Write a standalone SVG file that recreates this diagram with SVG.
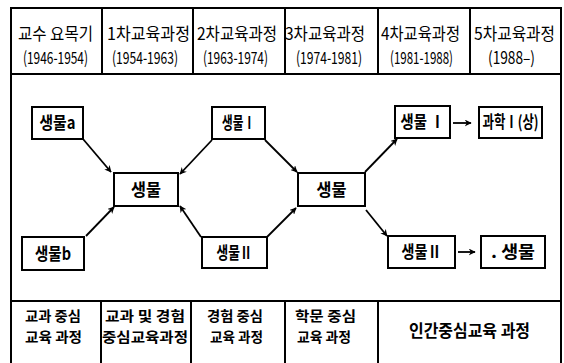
<svg xmlns="http://www.w3.org/2000/svg" width="564" height="363" viewBox="0 0 564 363">
<style>
.ln{stroke:#000;stroke-width:2;fill:none}
.bx{stroke:#000;stroke-width:2;fill:#fff}
.t{font-family:"Noto Sans CJK KR","Noto Sans",sans-serif;font-size:17px;font-weight:bold;fill:#000}
.f{font-family:"Noto Sans CJK KR","Noto Sans",sans-serif;font-size:14px;font-weight:bold;fill:#000}
.h{font-family:"Noto Sans CJK KR","Noto Sans",sans-serif;font-size:17px;fill:#000}
.c{stroke:#000;stroke-width:1.8;fill:none;marker-end:url(#ah)}
</style>
<defs>
<marker id="ah" viewBox="0 0 10 10" refX="9" refY="5" markerWidth="7" markerHeight="7" orient="auto" markerUnits="userSpaceOnUse">
<path d="M0,0 L10,5 L0,10 L3,5 Z" fill="#000"/>
</marker>
</defs>
<rect width="564" height="363" fill="#fff"/>
<g id="frame">
<path class="ln" d="M11,366 V8 H561 V366"/>
<line class="ln" x1="11" y1="74" x2="561" y2="74"/>
<line class="ln" x1="11" y1="301" x2="561" y2="301"/>
<line class="ln" x1="102" y1="8" x2="102" y2="74"/>
<line class="ln" x1="193" y1="8" x2="193" y2="74"/>
<line class="ln" x1="285" y1="8" x2="285" y2="74"/>
<line class="ln" x1="378" y1="8" x2="378" y2="74"/>
<line class="ln" x1="470" y1="8" x2="470" y2="74"/>
<line class="ln" x1="101" y1="301" x2="101" y2="366"/>
<line class="ln" x1="191" y1="301" x2="191" y2="366"/>
<line class="ln" x1="285" y1="301" x2="285" y2="366"/>
<line class="ln" x1="378" y1="301" x2="378" y2="366"/>
</g>
<g id="header">
<text class="h" x="18" y="40" textLength="75" lengthAdjust="spacingAndGlyphs">교수 요목기</text>
<text class="h" x="23" y="64" textLength="65" lengthAdjust="spacingAndGlyphs">(1946-1954)</text>
<text class="h" x="107" y="40" textLength="83" lengthAdjust="spacingAndGlyphs">1차교육과정</text>
<text class="h" x="112" y="64" textLength="66" lengthAdjust="spacingAndGlyphs">(1954-1963)</text>
<text class="h" x="197" y="40" textLength="80" lengthAdjust="spacingAndGlyphs">2차교육과정</text>
<text class="h" x="203" y="64" textLength="65" lengthAdjust="spacingAndGlyphs">(1963-1974)</text>
<text class="h" x="285" y="40" textLength="80" lengthAdjust="spacingAndGlyphs">3차교육과정</text>
<text class="h" x="296" y="64" textLength="66" lengthAdjust="spacingAndGlyphs">(1974-1981)</text>
<text class="h" x="381" y="40" textLength="79" lengthAdjust="spacingAndGlyphs">4차교육과정</text>
<text class="h" x="390" y="64" textLength="63" lengthAdjust="spacingAndGlyphs">(1981-1988)</text>
<text class="h" x="474" y="40" textLength="81" lengthAdjust="spacingAndGlyphs">5차교육과정</text>
<text class="h" x="488" y="64" textLength="47" lengthAdjust="spacingAndGlyphs">(1988–)</text>
</g>
<g id="connectors">
<line class="c" x1="83" y1="139" x2="111" y2="172"/>
<line class="c" x1="86" y1="236" x2="114" y2="207"/>
<line class="c" x1="212" y1="140" x2="180" y2="174"/>
<line class="c" x1="201" y1="237" x2="180" y2="206"/>
<line class="c" x1="265" y1="140" x2="297" y2="172"/>
<line class="c" x1="267" y1="237" x2="296" y2="208"/>
<line class="c" x1="365" y1="172" x2="397" y2="139"/>
<line class="c" x1="366" y1="210" x2="387" y2="236"/>
<line class="c" x1="453" y1="123" x2="471" y2="123"/>
<line class="c" x1="458" y1="252" x2="475" y2="252"/>
</g>
<g id="n-a"><rect class="bx" x="32" y="107" width="51" height="32"/><text class="t" x="57.5" y="129" text-anchor="middle" textLength="36" lengthAdjust="spacingAndGlyphs">생물a</text></g>
<g id="n-b"><rect class="bx" x="22" y="237" width="62" height="33"/><text class="t" x="53" y="260" text-anchor="middle" textLength="36" lengthAdjust="spacingAndGlyphs">생물b</text></g>
<g id="n-c1"><rect class="bx" x="114" y="173" width="64" height="33"/><text class="t" x="146" y="196" text-anchor="middle" textLength="30" lengthAdjust="spacingAndGlyphs">생물</text></g>
<g id="n-1"><rect class="bx" x="212" y="107" width="53" height="32"/><text class="t" x="238.5" y="129" text-anchor="middle" textLength="33" lengthAdjust="spacingAndGlyphs">생물Ⅰ</text></g>
<g id="n-2"><rect class="bx" x="202" y="237" width="65" height="31"/><text class="t" x="234.5" y="259" text-anchor="middle" textLength="36" lengthAdjust="spacingAndGlyphs">생물Ⅱ</text></g>
<g id="n-c2"><rect class="bx" x="298" y="173" width="67" height="33"/><text class="t" x="331.5" y="196" text-anchor="middle" textLength="30" lengthAdjust="spacingAndGlyphs">생물</text></g>
<g id="n-r1"><rect class="bx" x="395" y="106" width="55" height="32"/><text class="t" x="422.5" y="128" text-anchor="middle" textLength="44" lengthAdjust="spacingAndGlyphs">생물 Ⅰ</text></g>
<g id="n-sci"><rect class="bx" x="479" y="107" width="63" height="31"/><text class="t" x="510.5" y="128" text-anchor="middle" textLength="56" lengthAdjust="spacingAndGlyphs">과학Ⅰ(상)</text></g>
<g id="n-r2"><rect class="bx" x="388" y="236" width="67" height="32"/><text class="t" x="421.5" y="258" text-anchor="middle" textLength="40" lengthAdjust="spacingAndGlyphs">생물Ⅱ</text></g>
<g id="n-bio"><rect class="bx" x="481" y="236" width="64" height="32"/><text class="t" x="513" y="258" text-anchor="middle" textLength="44" lengthAdjust="spacingAndGlyphs">. 생물</text></g>
<g id="footer">
<text class="f" x="25" y="321" textLength="56" lengthAdjust="spacingAndGlyphs">교과 중심</text>
<text class="f" x="25" y="342" textLength="57" lengthAdjust="spacingAndGlyphs">교육 과정</text>
<text class="f" x="105" y="321" textLength="80" lengthAdjust="spacingAndGlyphs">교과 및 경험</text>
<text class="f" x="102" y="342" textLength="86" lengthAdjust="spacingAndGlyphs">중심교육과정</text>
<text class="f" x="207" y="321" textLength="56" lengthAdjust="spacingAndGlyphs">경험 중심</text>
<text class="f" x="210" y="342" textLength="53" lengthAdjust="spacingAndGlyphs">교육 과정</text>
<text class="f" x="295" y="321" textLength="61" lengthAdjust="spacingAndGlyphs">학문 중심</text>
<text class="f" x="297" y="342" textLength="54" lengthAdjust="spacingAndGlyphs">교육 과정</text>
<text class="t" x="409" y="337" textLength="121" lengthAdjust="spacingAndGlyphs">인간중심교육 과정</text>
</g>
</svg>
